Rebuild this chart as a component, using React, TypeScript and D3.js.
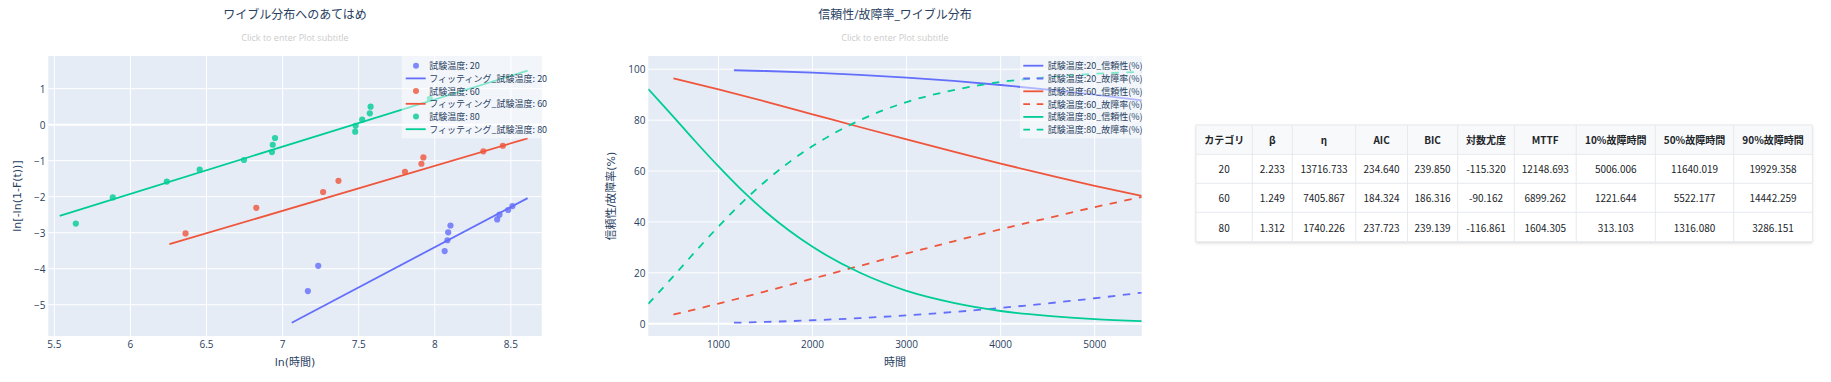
import React from 'react';
import * as d3 from 'd3';

// ---------- colours ----------
const C20 = '#636efa';
const C60 = '#EF553B';
const C80 = '#00cc96';
const TXT = '#2a3f5f';
const PLOT_BG = '#E5ECF6';
const FONT = '"Open Sans", "Noto Sans CJK JP", verdana, arial, sans-serif';
const TFONT = '"DejaVu Sans", verdana, "Noto Sans CJK JP", sans-serif';
const CJK = '"Noto Sans CJK JP", "Open Sans", sans-serif';

// ---------- left chart data: ln(時間) vs ln[-ln(1-F(t))] ----------
const pts20X = [7.166, 7.234, 8.065, 8.083, 8.088, 8.103, 8.41, 8.425, 8.482, 8.51];
const pts20Y = [-4.62, -3.92, -3.51, -3.21, -2.99, -2.8, -2.63, -2.5, -2.37, -2.26];
const pts60X = [6.362, 6.827, 7.266, 7.367, 7.804, 7.912, 7.925, 8.319, 8.447];
const pts60Y = [-3.02, -2.31, -1.87, -1.56, -1.31, -1.085, -0.91, -0.74, -0.585];
const pts80X = [5.641, 5.884, 6.239, 6.455, 6.746, 6.93, 6.935, 6.95, 7.477, 7.48, 7.523, 7.573, 7.578, 7.967];
const pts80Y = [-2.746, -2.02, -1.58, -1.25, -0.98, -0.76, -0.557, -0.37, -0.195, -0.03, 0.14, 0.315, 0.5, 0.72];
const fit20X = [7.06, 8.61];
const fit20Y = [-5.5, -2.04];
const fit60X = [6.256, 8.61];
const fit60Y = [-3.32, -0.38];
const fit80X = [5.535, 8.61];
const fit80Y = [-2.53, 1.5];

const leftXTicks = [5.5, 6, 6.5, 7, 7.5, 8, 8.5];
const leftXTickLabels = ['5.5', '6', '6.5', '7', '7.5', '8', '8.5'];
const leftYTicks = [-5, -4, -3, -2, -1, 0, 1];
const leftYTickLabels = ['\u22125', '\u22124', '\u22123', '\u22122', '\u22121', '0', '1'];

// ---------- right chart data: 時間 vs 信頼性/故障率(%) ----------
const t20 = [1164, 1500, 2000, 2500, 3000, 3500, 4000, 4500, 5000, 5500];
const rel20 = [99.6, 99.3, 98.65, 97.8, 96.7, 95.4, 93.8, 92.0, 90.0, 87.8];
const fail20 = [0.4, 0.7, 1.35, 2.2, 3.3, 4.6, 6.2, 8.0, 10.0, 12.2];
const t60 = [521, 1000, 1500, 2000, 2500, 3000, 3500, 4000, 4500, 5000, 5500];
const rel60 = [96.4, 92.1, 87.3, 82.3, 77.3, 72.4, 67.6, 62.9, 58.5, 54.2, 50.2];
const fail60 = [3.6, 7.9, 12.7, 17.7, 22.7, 27.6, 32.4, 37.1, 41.5, 45.8, 49.8];
const t80 = [253.4, 500, 750, 1000, 1250, 1500, 1750, 2000, 2500, 3000, 3500, 4000, 4500, 5000, 5500];
const rel80 = [92.2, 82.2, 71.8, 61.8, 52.4, 44.0, 36.6, 30.2, 20.1, 12.9, 8.2, 5.0, 3.1, 1.8, 1.05];
const fail80 = [7.8, 17.8, 28.2, 38.2, 47.6, 56.0, 63.4, 69.8, 79.9, 87.1, 91.8, 95.0, 96.9, 98.2, 98.95];

const rightXTicks = [1000, 2000, 3000, 4000, 5000];
const rightYTicks = [0, 20, 40, 60, 80, 100];

// ---------- table data ----------
const tableHeaders = ['カテゴリ', 'β', 'η', 'AIC', 'BIC', '対数尤度', 'MTTF', '10%故障時間', '50%故障時間', '90%故障時間'];
const tCategory = ['20', '60', '80'];
const tBeta = ['2.233', '1.249', '1.312'];
const tEta = ['13716.733', '7405.867', '1740.226'];
const tAIC = ['234.640', '184.324', '237.723'];
const tBIC = ['239.850', '186.316', '239.139'];
const tLogLik = ['-115.320', '-90.162', '-116.861'];
const tMTTF = ['12148.693', '6899.262', '1604.305'];
const t10 = ['5006.006', '1221.644', '313.103'];
const t50 = ['11640.019', '5522.177', '1316.080'];
const t90 = ['19929.358', '14442.259', '3286.151'];

const zip = (xs: number[], ys: number[]) => xs.map((x, i) => [x, ys[i]] as [number, number]);

// ---------- scales ----------
const LX = d3.scaleLinear().domain([5.4602, 8.7025]).range([48.3, 541.7]);
const LY = d3.scaleLinear().domain([-5.869, 1.908]).range([336, 56]);
const RX = d3.scaleLinear().domain([253.4, 5500]).range([648.3, 1141.7]);
const RY = d3.scaleLinear().domain([-4.83, 105.2]).range([336, 56]);

const LEFT_PLOT = { x: 48.3, y: 56, w: 493.4, h: 280 };
const RIGHT_PLOT = { x: 648.3, y: 56, w: 493.4, h: 280 };

function LeftChart() {
  const line = d3.line<[number, number]>().x(d => LX(d[0])).y(d => LY(d[1]));
  const series = [
    { px: pts20X, py: pts20Y, fx: fit20X, fy: fit20Y, c: C20, name: '試験温度: 20', fit: 'フィッティング_試験温度: 20' },
    { px: pts60X, py: pts60Y, fx: fit60X, fy: fit60Y, c: C60, name: '試験温度: 60', fit: 'フィッティング_試験温度: 60' },
    { px: pts80X, py: pts80Y, fx: fit80X, fy: fit80Y, c: C80, name: '試験温度: 80', fit: 'フィッティング_試験温度: 80' },
  ];
  const lg = { x: 401.7, y: 56, w: 140, h: 82.3 };
  return (
    <g>
      <text x={295} y={14} textAnchor="middle" dominantBaseline="central" fontSize={12} fill={TXT} fontFamily={FONT}>ワイブル分布へのあてはめ</text>
      <text x={295} y={37.3} textAnchor="middle" dominantBaseline="central" fontSize={9} fill="#cccccc" fontFamily={FONT}>Click to enter Plot subtitle</text>
      <rect x={LEFT_PLOT.x} y={LEFT_PLOT.y} width={LEFT_PLOT.w} height={LEFT_PLOT.h} fill={PLOT_BG} />
      {leftXTicks.map(t => (
        <line key={'gx' + t} x1={LX(t)} x2={LX(t)} y1={56} y2={336} stroke="#fff" strokeWidth={1} />
      ))}
      {leftYTicks.map(t => (
        <line key={'gy' + t} x1={48.3} x2={541.7} y1={LY(t)} y2={LY(t)} stroke="#fff" strokeWidth={t === 0 ? 2 : 1} />
      ))}
      <g clipPath="url(#clipL)">
        {series.map((s, i) => (
          <path key={'f' + i} d={line(zip(s.fx, s.fy)) || ''} fill="none" stroke={s.c} strokeWidth={1.8} />
        ))}
        {series.map((s, i) => (
          <g key={'p' + i}>
            {s.px.map((x, j) => (
              <circle key={j} cx={LX(x)} cy={LY(s.py[j])} r={3.1} fill={s.c} fillOpacity={0.8} />
            ))}
          </g>
        ))}
      </g>
      {leftXTicks.map((t, i) => (
        <text key={'lx' + t} x={LX(t)} y={344} textAnchor="middle" dominantBaseline="central" fontSize={10} fill={TXT} fontFamily={FONT}>{leftXTickLabels[i]}</text>
      ))}
      {leftYTicks.map((t, i) => (
        <text key={'ly' + t} x={45.5} y={LY(t)} textAnchor="end" dominantBaseline="central" fontSize={10} fill={TXT} fontFamily={FONT}>{leftYTickLabels[i]}</text>
      ))}
      <text x={295} y={362} textAnchor="middle" dominantBaseline="central" fontSize={11} fill={TXT} fontFamily={TFONT}>ln(時間)</text>
      <text transform="translate(17,196) rotate(-90)" textAnchor="middle" dominantBaseline="central" fontSize={11} fill={TXT} fontFamily={TFONT}>ln[-ln(1-F(t))]</text>
      {/* legend */}
      <rect x={lg.x} y={lg.y} width={lg.w} height={lg.h} fill="rgba(255,255,255,0.5)" />
      {series.map((s, i) => {
        const y1 = 65.7 + i * 2 * 12.7;
        const y2 = y1 + 12.7;
        return (
          <g key={'lg' + i}>
            <circle cx={416} cy={y1} r={3} fill={s.c} fillOpacity={0.8} />
            <text x={429.3} y={y1} dominantBaseline="central" fontSize={9} fill={TXT} fontFamily={CJK}>{s.name}</text>
            <line x1={405.7} x2={425.7} y1={y2} y2={y2} stroke={s.c} strokeWidth={1.8} />
            <text x={429.3} y={y2} dominantBaseline="central" fontSize={9} fill={TXT} fontFamily={CJK}>{s.fit}</text>
          </g>
        );
      })}
    </g>
  );
}

function RightChart() {
  const line = d3.line<[number, number]>().x(d => RX(d[0])).y(d => RY(d[1])).curve(d3.curveMonotoneX);
  const series = [
    { t: t20, v: rel20, c: C20, dash: false, name: '試験温度:20_信頼性(%)' },
    { t: t20, v: fail20, c: C20, dash: true, name: '試験温度:20_故障率(%)' },
    { t: t60, v: rel60, c: C60, dash: false, name: '試験温度:60_信頼性(%)' },
    { t: t60, v: fail60, c: C60, dash: true, name: '試験温度:60_故障率(%)' },
    { t: t80, v: rel80, c: C80, dash: false, name: '試験温度:80_信頼性(%)' },
    { t: t80, v: fail80, c: C80, dash: true, name: '試験温度:80_故障率(%)' },
  ];
  return (
    <g>
      <text x={895} y={14} textAnchor="middle" dominantBaseline="central" fontSize={12} fill={TXT} fontFamily={FONT}>信頼性/故障率_ワイブル分布</text>
      <text x={895} y={37.3} textAnchor="middle" dominantBaseline="central" fontSize={9} fill="#cccccc" fontFamily={FONT}>Click to enter Plot subtitle</text>
      <rect x={RIGHT_PLOT.x} y={RIGHT_PLOT.y} width={RIGHT_PLOT.w} height={RIGHT_PLOT.h} fill={PLOT_BG} />
      {rightXTicks.map(t => (
        <line key={'gx' + t} x1={RX(t)} x2={RX(t)} y1={56} y2={336} stroke="#fff" strokeWidth={1} />
      ))}
      {rightYTicks.map(t => (
        <line key={'gy' + t} x1={648.3} x2={1141.7} y1={RY(t)} y2={RY(t)} stroke="#fff" strokeWidth={t === 0 ? 2 : 1} />
      ))}
      <g clipPath="url(#clipR)">
        {series.map((s, i) => (
          <path key={'s' + i} d={line(zip(s.t, s.v)) || ''} fill="none" stroke={s.c} strokeWidth={1.8}
            strokeDasharray={s.dash ? '7.5,7.5' : undefined} />
        ))}
      </g>
      {rightXTicks.map(t => (
        <text key={'rx' + t} x={RX(t)} y={344} textAnchor="middle" dominantBaseline="central" fontSize={10} fill={TXT} fontFamily={FONT}>{t}</text>
      ))}
      {rightYTicks.map(t => (
        <text key={'ry' + t} x={645.5} y={RY(t)} textAnchor="end" dominantBaseline="central" fontSize={10} fill={TXT} fontFamily={FONT}>{t}</text>
      ))}
      <text x={895} y={362} textAnchor="middle" dominantBaseline="central" fontSize={11} fill={TXT} fontFamily={TFONT}>時間</text>
      <text transform="translate(611.7,196) rotate(-90)" textAnchor="middle" dominantBaseline="central" fontSize={11} fill={TXT} fontFamily={TFONT}>信頼性/故障率(%)</text>
      <rect x={1020} y={56} width={121.7} height={82.3} fill="rgba(255,255,255,0.5)" />
      {series.map((s, i) => {
        const y = 65.7 + i * 12.8;
        return (
          <g key={'lg' + i}>
            <line x1={1023.3} x2={1043.3} y1={y} y2={y} stroke={s.c} strokeWidth={1.8} strokeDasharray={s.dash ? '6.7,6.7' : undefined} />
            <text x={1047.7} y={y} dominantBaseline="central" fontSize={9} fill={TXT} fontFamily={CJK}>{s.name}</text>
          </g>
        );
      })}
    </g>
  );
}

function Table() {
  const cols = [1196, 1252.3, 1292.3, 1355.7, 1407.5, 1457.7, 1514.3, 1576.2, 1655.3, 1733.7, 1812.4];
  const rows = [125, 154.3, 183.3, 212.3, 241.7];
  const body = [0, 1, 2].map(r => [tCategory[r], tBeta[r], tEta[r], tAIC[r], tBIC[r], tLogLik[r], tMTTF[r], t10[r], t50[r], t90[r]]);
  const L = cols[0], R = cols[cols.length - 1], T = rows[0], B = rows[rows.length - 1];
  return (
    <g>
      <rect x={L} y={T} width={R - L} height={B - T} fill="#fff" filter="url(#tshadow)" />
      <rect x={L} y={T} width={R - L} height={rows[1] - T} fill="#f8f9fa" />
      {rows.map((y, i) => (
        <line key={'hr' + i} x1={L} x2={R} y1={y} y2={y} stroke="#e6e9ed" strokeWidth={1} />
      ))}
      {cols.map((x, i) => (
        <line key={'vr' + i} x1={x} x2={x} y1={T} y2={B} stroke="#e6e9ed" strokeWidth={1} />
      ))}
      {tableHeaders.map((h, i) => (
        <text key={'h' + i} x={(cols[i] + cols[i + 1]) / 2} y={(rows[0] + rows[1]) / 2} textAnchor="middle" dominantBaseline="central"
          fontSize={10} fontWeight="bold" fill="#212529" fontFamily={CJK}>{h}</text>
      ))}
      {body.map((row, r) => row.map((v, c) => (
        <text key={r + '-' + c} x={(cols[c] + cols[c + 1]) / 2} y={(rows[r + 1] + rows[r + 2]) / 2} textAnchor="middle" dominantBaseline="central"
          fontSize={10} fill="#212529" fontFamily={CJK}>{v}</text>
      )))}
    </g>
  );
}

export default function App() {
  return (
    <div style={{ position: 'absolute', left: 0, top: 0 }}>
      <svg width={1831} height={382} style={{ display: 'block', background: '#fff' }}>
        <defs>
          <clipPath id="clipL"><rect x={LEFT_PLOT.x} y={LEFT_PLOT.y} width={LEFT_PLOT.w} height={LEFT_PLOT.h} /></clipPath>
          <clipPath id="clipR"><rect x={RIGHT_PLOT.x} y={RIGHT_PLOT.y} width={RIGHT_PLOT.w} height={RIGHT_PLOT.h} /></clipPath>
          <filter id="tshadow" x="-5%" y="-20%" width="110%" height="140%">
            <feDropShadow dx={0} dy={1.5} stdDeviation={1.5} floodColor="#000" floodOpacity={0.15} />
          </filter>
        </defs>
        <LeftChart />
        <RightChart />
        <Table />
      </svg>
    </div>
  );
}
